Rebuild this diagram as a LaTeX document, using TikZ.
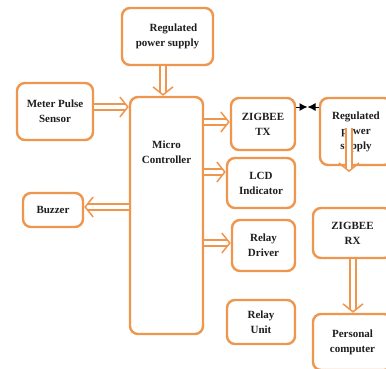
\documentclass[tikz,border=0pt]{standalone}
\usepackage{fontspec}
\setmainfont{Liberation Serif}
\usetikzlibrary{arrows.meta}
\definecolor{org}{RGB}{238,150,78}
\definecolor{txt}{RGB}{30,30,30}
\tikzset{
  blk/.style={draw=org, line width=2.4pt, rounded corners=8pt, fill=white, align=center,
    text=txt, font=\bfseries\fontsize{11}{15}\selectfont, inner sep=0pt},
  shaft/.style={draw=org, line width=1.4pt, double=white, double distance=4.8pt, shorten >=3.5pt},
  headp/.style={draw=white, line width=0.3pt, shorten <=3pt,
    -{Straight Barb[color=org, line width=1.5pt, length=8pt, width=20pt]}},
  blk2/.style={-{Latex[length=8pt,width=8pt]}, black, line width=1pt}
}
\newcommand\hollowarrow[2]{\draw[headp] #1 -- #2; \draw[shaft] #1 -- #2;}
\begin{document}
\begin{tikzpicture}[x=1pt,y=-1pt]
\useasboundingbox (0,0) rectangle (386,368);
\clip (0,0) rectangle (386,368);
\node[blk, minimum width=91pt, minimum height=57pt] (ps1) at (167.5,36.5) {\hspace*{12pt}Regulated\\power supply};
\node[blk, minimum width=73pt, minimum height=237pt] (mc) at (166.5,215.5) {};
\node[align=center, text=txt, font=\bfseries\fontsize{11}{14.5}\selectfont, inner sep=0pt] (mct) at (166.5,152) {Micro\\Controller};
\node[blk, minimum width=76pt, minimum height=57pt] (meter) at (55,111.5) {Meter Pulse\\Sensor};
\node[blk, minimum width=64pt, minimum height=52pt] (zbtx) at (263,124) {ZIGBEE\\TX};
\node[blk, minimum width=72pt, minimum height=67pt] (ps2) at (356,131.5) {Regulated\\power\\supply};
\node[blk, minimum width=68pt, minimum height=50pt] (lcd) at (261,183) {LCD\\Indicator};
\node[blk, minimum width=60pt, minimum height=34pt] (buz) at (53,210) {Buzzer};
\node[blk, minimum width=63pt, minimum height=51pt] (rd) at (263.5,245.5) {Relay\\Driver};
\node[blk, minimum width=68pt, minimum height=44pt] (ru) at (261,322) {Relay\\Unit};
\node[blk, minimum width=79pt, minimum height=50pt] (zbrx) at (352.5,233) {ZIGBEE\\RX};
\node[blk, minimum width=79pt, minimum height=56pt] (pc) at (352.5,342) {Personal\\computer};
% arrows
\hollowarrow{(ps1.south -| 163,0)}{(mc.north -| 163,0)}
\hollowarrow{(meter.east |- 0,107)}{(mc.west |- 0,107)}
\hollowarrow{(mc.east |- 0,122)}{(zbtx.west |- 0,122)}
\hollowarrow{(mc.east |- 0,172)}{(lcd.west |- 0,172)}
\hollowarrow{(mc.west |- 0,207)}{(buz.east |- 0,207)}
\hollowarrow{(mc.east |- 0,243)}{(rd.west |- 0,243)}
\hollowarrow{(zbrx.south -| 353,0)}{(pc.north -| 353,0)}
\coordinate (pst) at (349,128);
\coordinate (psb) at (349,172);
\hollowarrow{(pst)}{(psb)}
\coordinate (mid) at (307.5,107);
\draw[blk2] (zbtx.east |- 0,107) -- (mid);
\draw[blk2] (ps2.west |- 0,107) -- (mid);
\end{tikzpicture}
\end{document}
